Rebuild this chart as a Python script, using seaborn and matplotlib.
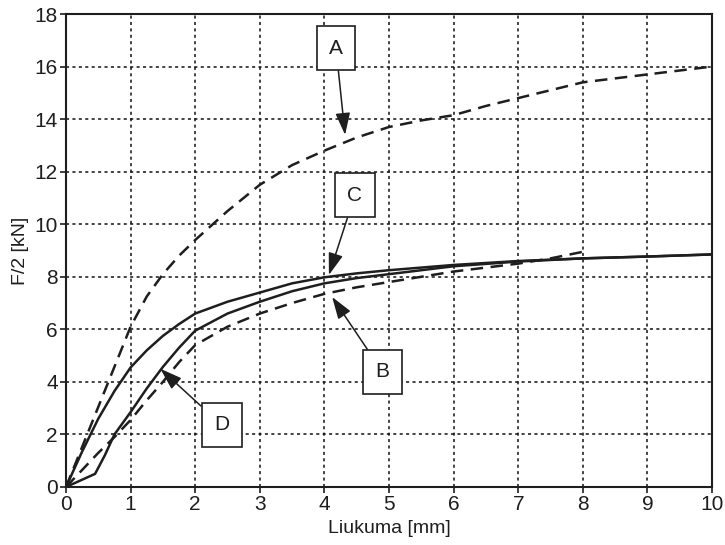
import matplotlib
matplotlib.use("Agg")
import matplotlib.pyplot as plt
import seaborn as sns
import pandas as pd

# Load–slip curves, F/2 [kN] against slip [mm]
xA = [0, 0.5, 1.0, 1.25, 1.5, 1.75, 2, 2.5, 3, 3.5, 4, 4.5, 5, 5.5, 6, 6.5, 7, 7.5, 8, 8.5, 9, 9.5, 10]
yA = [0, 3.05, 6.1, 7.25, 8.1, 8.8, 9.4, 10.5, 11.5, 12.25, 12.8, 13.3, 13.7, 13.95, 14.15,
      14.5, 14.8, 15.1, 15.4, 15.55, 15.7, 15.85, 16.0]

xC = [0, 0.25, 0.5, 0.75, 1.0, 1.25, 1.5, 1.75, 2, 2.5, 3, 3.5, 4, 4.5, 5, 6, 7, 8, 9, 10]
yC = [0, 1.35, 2.6, 3.65, 4.55, 5.2, 5.75, 6.2, 6.6, 7.05, 7.4, 7.75, 7.98, 8.13, 8.25,
      8.45, 8.6, 8.7, 8.77, 8.85]

xB = [0, 0.45, 0.6, 0.75, 1.0, 1.25, 1.5, 1.75, 2, 2.5, 3, 3.5, 4, 4.5, 5, 6, 7, 8, 9, 10]
yB = [0, 0.5, 1.2, 2.0, 2.85, 3.75, 4.57, 5.3, 5.95, 6.6, 7.05, 7.45, 7.75, 7.95, 8.1,
      8.4, 8.58, 8.7, 8.77, 8.85]

xD = [0, 0.25, 0.5, 0.75, 1.0, 1.25, 1.5, 1.75, 2, 2.5, 3, 3.5, 4, 4.5, 5, 6, 7, 7.5, 8]
yD = [0, 0.65, 1.3, 1.9, 2.55, 3.3, 4.0, 4.75, 5.4, 6.1, 6.6, 7.0, 7.35, 7.6, 7.8,
      8.2, 8.5, 8.7, 8.95]

# Callout labels: text, box centre, arrow tip
labels = ["A", "C", "B", "D"]
box_xy = [(4.18, 16.7), (4.47, 11.1), (4.9, 4.38), (2.41, 2.36)]
tip_xy = [(4.32, 13.4), (4.07, 8.07), (4.12, 7.23), (1.46, 4.5)]

sns.set_theme(style="white")
plt.rcParams["font.family"] = ["Liberation Sans", "DejaVu Sans"]

fig = plt.figure(figsize=(7.25, 5.45), dpi=100)
ax = fig.add_axes([66 / 725, 1 - 487 / 545, (712 - 66) / 725, (487 - 14) / 545])

ink = "#1e1e1e"
dash = (5, 3)
curves = [
    (xA, yA, True),
    (xC, yC, False),
    (xB, yB, False),
    (xD, yD, True),
]
for xs, ys, dashed in curves:
    df = pd.DataFrame({"x": xs, "y": ys})
    sns.lineplot(data=df, x="x", y="y", ax=ax, color=ink, lw=1.8, sort=False,
                 linestyle=(0, dash) if dashed else "-")

ax.set_xlim(0, 10)
ax.set_ylim(0, 18)
ax.set_xticks(range(0, 11))
ax.set_yticks(range(0, 19, 2))
ax.grid(True, color="#111111", linestyle=(0, (2, 2.2)), linewidth=1.1)
for s in ax.spines.values():
    s.set_color(ink)
    s.set_linewidth(1.5)
ax.tick_params(axis="both", direction="out", length=4, width=1.2, color=ink,
               labelsize=15, labelcolor=ink, pad=2, bottom=True, left=True)
ax.set_xlabel("Liukuma [mm]", fontsize=14, color=ink, labelpad=4)
ax.set_ylabel("F/2 [kN]", fontsize=14, color=ink, labelpad=4)

for lab, bxy, txy in zip(labels, box_xy, tip_xy):
    ax.annotate(
        lab, xy=txy, xytext=bxy, ha="center", va="center", fontsize=15,
        color=ink,
        bbox=dict(boxstyle="square,pad=0.6", fc="white", ec=ink, lw=1.2),
        arrowprops=dict(arrowstyle="-|>,head_length=0.9,head_width=0.3",
                        color=ink, lw=1.1, shrinkA=0, shrinkB=0),
        zorder=5,
    )

fig.savefig("out.png", dpi=100, facecolor="white")
